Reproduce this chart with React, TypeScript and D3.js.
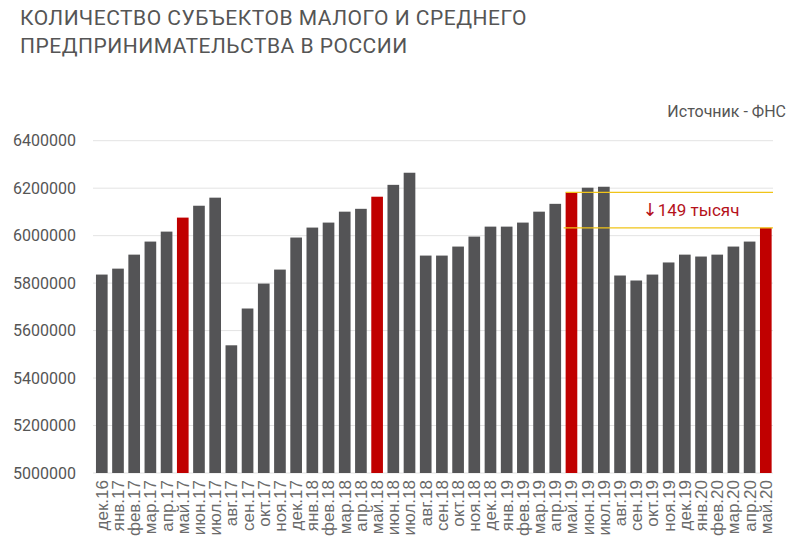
import React, { useEffect, useRef } from 'react';
import * as d3 from 'd3';

const months: string[] = [
  'дек.16',
  'янв.17', 'фев.17', 'мар.17', 'апр.17', 'май.17', 'июн.17', 'июл.17', 'авг.17', 'сен.17', 'окт.17', 'ноя.17', 'дек.17',
  'янв.18', 'фев.18', 'мар.18', 'апр.18', 'май.18', 'июн.18', 'июл.18', 'авг.18', 'сен.18', 'окт.18', 'ноя.18', 'дек.18',
  'янв.19', 'фев.19', 'мар.19', 'апр.19', 'май.19', 'июн.19', 'июл.19', 'авг.19', 'сен.19', 'окт.19', 'ноя.19', 'дек.19',
  'янв.20', 'фев.20', 'мар.20', 'апр.20', 'май.20',
];

const counts: number[] = [
  5836000,
  5861000, 5920000, 5975000, 6017000, 6076000, 6126000, 6160000, 5538000, 5693000, 5798000, 5857000, 5992000,
  6034000, 6055000, 6101000, 6113000, 6164000, 6214000, 6265000, 5916000, 5916000, 5954000, 5996000, 6038000,
  6038000, 6055000, 6101000, 6134000, 6182000, 6202000, 6206000, 5832000, 5811000, 5836000, 5887000, 5920000,
  5912000, 5920000, 5954000, 5975000, 6033000,
];

// месяцы, выделенные красным
const highlighted: string[] = ['май.17', 'май.18', 'май.19', 'май.20'];

const yTicks: number[] = [5000000, 5200000, 5400000, 5600000, 5800000, 6000000, 6200000, 6400000];

const compareFrom = 'май.19';
const compareTo = 'май.20';
const dropLabel = '149 тысяч';

const App = () => {
  const ref = useRef<SVGSVGElement>(null);

  useEffect(() => {
    document.body.style.margin = '0';
    const svg = d3.select(ref.current);
    svg.selectAll('*').remove();

    const data = months.map((m, i) => ({ month: m, value: counts[i] }));

    const x = d3.scaleBand<string>()
      .domain(months)
      .range([93.7, 773.9])
      .paddingInner(0.28)
      .paddingOuter(0.14);

    const y = d3.scaleLinear()
      .domain([5000000, 6400000])
      .range([473, 140.7]);

    const gridLeft = 93;
    const gridRight = 773;

    // title
    const title = svg.append('text')
      .attr('x', 20)
      .attr('fill', '#555')
      .style('font-family', 'Roboto, sans-serif')
      .style('font-size', '21px')
      .style('letter-spacing', '0.5px');
    title.append('tspan').attr('x', 20).attr('y', 25).text('КОЛИЧЕСТВО СУБЪЕКТОВ МАЛОГО И СРЕДНЕГО');
    title.append('tspan').attr('x', 20).attr('y', 53).text('ПРЕДПРИНИМАТЕЛЬСТВА В РОССИИ');

    svg.append('text')
      .attr('x', 786)
      .attr('y', 117)
      .attr('text-anchor', 'end')
      .attr('fill', '#555')
      .style('font-family', 'Roboto, sans-serif')
      .style('font-size', '16px')
      .text('Источник - ФНС');

    // gridlines
    svg.append('g')
      .selectAll('line')
      .data(yTicks)
      .enter().append('line')
      .attr('x1', gridLeft)
      .attr('x2', gridRight)
      .attr('y1', d => y(d))
      .attr('y2', d => y(d))
      .attr('stroke', '#e3e3e3')
      .attr('stroke-width', 1);

    // y labels
    svg.append('g')
      .selectAll('text')
      .data(yTicks)
      .enter().append('text')
      .attr('x', 76)
      .attr('y', d => y(d))
      .attr('dy', '0.35em')
      .attr('text-anchor', 'end')
      .attr('fill', '#555')
      .style('font-family', 'Roboto, sans-serif')
      .style('font-size', '16px')
      .text(d => String(d));

    // bars
    svg.append('g')
      .selectAll('rect')
      .data(data)
      .enter().append('rect')
      .attr('x', d => x(d.month)!)
      .attr('y', d => y(d.value))
      .attr('width', x.bandwidth())
      .attr('height', d => y(5000000) - y(d.value))
      .attr('fill', d => (highlighted.includes(d.month) ? '#c00000' : '#545456'));

    // x labels
    svg.append('g')
      .selectAll('text')
      .data(months)
      .enter().append('text')
      .attr('transform', d => `translate(${x(d)! + x.bandwidth() / 2},480) rotate(-90)`)
      .attr('dy', '0.35em')
      .attr('text-anchor', 'end')
      .attr('fill', '#6a6a6a')
      .style('font-family', '"Liberation Sans", Arial, sans-serif')
      .style('font-size', '17px')
      .text(d => d);

    // comparison lines
    const vFrom = counts[months.indexOf(compareFrom)];
    const vTo = counts[months.indexOf(compareTo)];
    svg.append('line')
      .attr('x1', x(compareFrom)!)
      .attr('x2', gridRight)
      .attr('y1', y(vFrom))
      .attr('y2', y(vFrom))
      .attr('stroke', '#f0c419')
      .attr('stroke-width', 1.3);
    svg.append('line')
      .attr('x1', x(compareFrom)! - 2)
      .attr('x2', gridRight)
      .attr('y1', y(vTo))
      .attr('y2', y(vTo))
      .attr('stroke', '#f0c419')
      .attr('stroke-width', 1.3);

    const note = svg.append('text')
      .attr('x', 691)
      .attr('y', (y(vFrom) + y(vTo)) / 2 + 6)
      .attr('text-anchor', 'middle')
      .attr('fill', '#b5121b')
      .style('font-family', 'Roboto, sans-serif')
      .style('font-size', '17px');
    note.append('tspan')
      .style('font-family', '"DejaVu Sans", sans-serif')
      .style('font-size', '18px')
      .text('\u2193');
    note.append('tspan').text(dropLabel);
  }, []);

  return <svg ref={ref} width={795} height={556} style={{ display: 'block', background: '#fff' }} />;
};

export default App;
